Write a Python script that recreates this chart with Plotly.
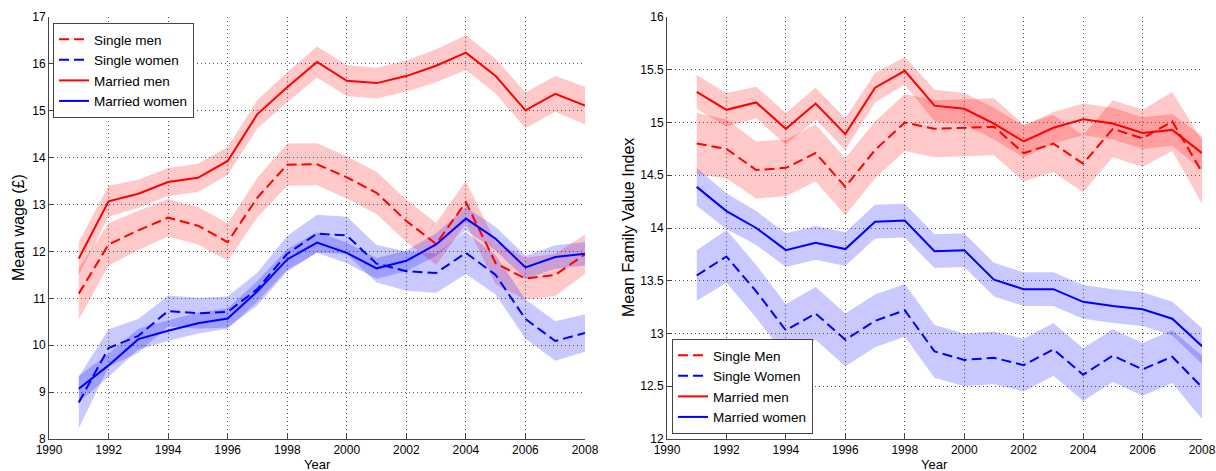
import plotly.graph_objects as go

years = list(range(1991, 2009))

# Left panel: mean wage (GBP)
wage_single_men = [11.1, 12.15, 12.45, 12.72, 12.55, 12.2, 13.15, 13.85, 13.86, 13.58, 13.25, 12.65, 12.16, 13.05, 11.75, 11.42, 11.5, 11.94]
wage_single_women = [8.78, 9.94, 10.2, 10.73, 10.68, 10.71, 11.2, 11.95, 12.38, 12.34, 11.74, 11.58, 11.54, 11.97, 11.5, 10.56, 10.09, 10.26]
wage_married_men = [11.85, 13.07, 13.23, 13.48, 13.57, 13.93, 14.93, 15.5, 16.04, 15.64, 15.59, 15.74, 15.96, 16.24, 15.74, 15.01, 15.36, 15.11]
wage_married_women = [9.07, 9.57, 10.13, 10.31, 10.47, 10.57, 11.15, 11.83, 12.19, 11.97, 11.64, 11.8, 12.15, 12.7, 12.27, 11.66, 11.88, 11.95]
wage_hw_single_men = [0.55, 0.45, 0.42, 0.4, 0.4, 0.4, 0.42, 0.45, 0.45, 0.45, 0.45, 0.45, 0.45, 0.45, 0.45, 0.45, 0.45, 0.42]
wage_hw_single_women = [0.55, 0.4, 0.36, 0.33, 0.33, 0.33, 0.35, 0.38, 0.4, 0.4, 0.4, 0.42, 0.42, 0.45, 0.42, 0.42, 0.42, 0.4]
wage_hw_married_men = [0.35, 0.33, 0.3, 0.3, 0.3, 0.3, 0.3, 0.32, 0.33, 0.33, 0.33, 0.33, 0.35, 0.37, 0.37, 0.38, 0.38, 0.4]
wage_hw_married_women = [0.28, 0.25, 0.22, 0.22, 0.22, 0.22, 0.22, 0.22, 0.22, 0.22, 0.22, 0.22, 0.24, 0.25, 0.25, 0.25, 0.25, 0.25]

# Right panel: mean family value index
fvi_single_men = [14.8, 14.75, 14.55, 14.57, 14.71, 14.39, 14.74, 15.0, 14.94, 14.95, 14.96, 14.71, 14.8, 14.61, 14.94, 14.85, 15.01, 14.53]
fvi_single_women = [13.55, 13.73, 13.4, 13.03, 13.19, 12.94, 13.12, 13.22, 12.83, 12.75, 12.77, 12.7, 12.85, 12.61, 12.79, 12.66, 12.78, 12.49]
fvi_married_men = [15.29, 15.12, 15.19, 14.94, 15.18, 14.89, 15.33, 15.49, 15.16, 15.13, 14.99, 14.82, 14.95, 15.03, 14.99, 14.9, 14.93, 14.71]
fvi_married_women = [14.39, 14.16, 14.0, 13.79, 13.86, 13.8, 14.06, 14.07, 13.78, 13.79, 13.51, 13.42, 13.42, 13.3, 13.26, 13.23, 13.14, 12.88]
fvi_hw_single_men = [0.29, 0.28, 0.27, 0.27, 0.27, 0.27, 0.27, 0.27, 0.27, 0.27, 0.27, 0.27, 0.27, 0.27, 0.27, 0.27, 0.28, 0.3]
fvi_hw_single_women = [0.24, 0.25, 0.25, 0.25, 0.25, 0.25, 0.25, 0.25, 0.25, 0.25, 0.25, 0.25, 0.25, 0.25, 0.25, 0.25, 0.25, 0.3]
fvi_hw_married_men = [0.16, 0.16, 0.15, 0.15, 0.15, 0.15, 0.14, 0.13, 0.15, 0.15, 0.15, 0.15, 0.15, 0.15, 0.15, 0.15, 0.15, 0.16]
fvi_hw_married_women = [0.18, 0.17, 0.16, 0.16, 0.16, 0.16, 0.16, 0.16, 0.16, 0.16, 0.16, 0.16, 0.16, 0.16, 0.16, 0.16, 0.16, 0.17]

RED = "#ff0000"
BLUE = "#0000ff"
RED_BAND = "rgba(255,0,0,0.21)"
BLUE_BAND = "rgba(0,0,255,0.21)"
DASH = "10px,5px"
FONT = "Liberation Sans, Arial, sans-serif"

W, H = 1216, 471


def px(x):
    # pixel x -> paper fraction
    return x / W


def py(y):
    # pixel y (from top) -> paper fraction
    return 1 - y / H


fig = go.Figure()


def band(mean, hw, color, xa, ya):
    upper = [m + h for m, h in zip(mean, hw)]
    lower = [m - h for m, h in zip(mean, hw)]
    return go.Scatter(x=years + years[::-1], y=upper + lower[::-1], fill="toself",
                      fillcolor=color, line=dict(width=0), mode="lines",
                      hoverinfo="skip", showlegend=False, xaxis=xa, yaxis=ya)


def line(mean, name, color, dash, xa, ya, legend):
    return go.Scatter(x=years, y=mean, mode="lines", name=name,
                      line=dict(color=color, width=2, dash=dash),
                      xaxis=xa, yaxis=ya, legend=legend)


# Left panel
left = [
    (wage_single_men, wage_hw_single_men, "Single men", RED, RED_BAND, DASH),
    (wage_single_women, wage_hw_single_women, "Single women", BLUE, BLUE_BAND, DASH),
    (wage_married_men, wage_hw_married_men, "Married men", RED, RED_BAND, "solid"),
    (wage_married_women, wage_hw_married_women, "Married women", BLUE, BLUE_BAND, "solid"),
]
for mean, hw, name, c, bc, d in left:
    fig.add_trace(band(mean, hw, bc, "x", "y"))
for mean, hw, name, c, bc, d in left:
    fig.add_trace(line(mean, name, c, d, "x", "y", "legend"))

# Right panel
right = [
    (fvi_single_men, fvi_hw_single_men, "Single Men", RED, RED_BAND, DASH),
    (fvi_single_women, fvi_hw_single_women, "Single Women", BLUE, BLUE_BAND, DASH),
    (fvi_married_men, fvi_hw_married_men, "Married men", RED, RED_BAND, "solid"),
    (fvi_married_women, fvi_hw_married_women, "Married women", BLUE, BLUE_BAND, "solid"),
]
for mean, hw, name, c, bc, d in right:
    fig.add_trace(band(mean, hw, bc, "x2", "y2"))
for mean, hw, name, c, bc, d in right:
    fig.add_trace(line(mean, name, c, d, "x2", "y2", "legend2"))

axis_style = dict(
    showgrid=True, gridcolor="#555555", griddash="1px,3px", gridwidth=1,
    showline=True, linecolor="#444444", linewidth=1, mirror=False,
    ticks="inside", ticklen=5, tickcolor="#444444",
    tickfont=dict(family=FONT, size=12, color="black"),
    zeroline=False, automargin=False,
)

y0, y1 = py(439), py(17)

fig.update_layout(
    width=W, height=H,
    margin=dict(l=0, r=0, t=0, b=0, autoexpand=False),
    paper_bgcolor="white", plot_bgcolor="white",
    font=dict(family=FONT, color="black"),
    xaxis=dict(domain=[px(49), px(585)], range=[1990, 2008], dtick=2, anchor="y", **axis_style),
    yaxis=dict(domain=[y0, y1], range=[8, 17], dtick=1, anchor="x", **axis_style),
    xaxis2=dict(domain=[px(667), px(1202)], range=[1990, 2008], dtick=2, anchor="y2", **axis_style),
    yaxis2=dict(domain=[y0, y1], range=[12, 16], dtick=0.5, anchor="x2", **axis_style),
    legend=dict(x=px(53), y=py(23), xanchor="left", yanchor="top",
                bgcolor="white", bordercolor="#444444", borderwidth=1,
                font=dict(family=FONT, size=13.5, color="black"), tracegroupgap=0),
    legend2=dict(x=px(672), y=py(434), xanchor="left", yanchor="bottom",
                 bgcolor="white", bordercolor="#444444", borderwidth=1,
                 font=dict(family=FONT, size=13.5, color="black"), tracegroupgap=0),
    showlegend=True,
)

annotations = [
    dict(text="Mean wage (£)", x=px(18), y=(y0 + y1) / 2, textangle=-90, font_size=16),
    dict(text="Mean Family Value Index", x=px(628), y=(y0 + y1) / 2, textangle=-90, font_size=16),
    dict(text="Year", x=px(317), y=py(464), font_size=13),
    dict(text="Year", x=px(934), y=py(464), font_size=13),
]
for a in annotations:
    fig.add_annotation(xref="paper", yref="paper", showarrow=False,
                       xanchor="center", yanchor="middle",
                       font=dict(family=FONT, color="black", size=a.pop("font_size")), **a)

# drop the default page margin so the figure sits at the window's top-left corner
fig.write_html("out.html", config={"displayModeBar": False},
               post_script="document.body.style.margin='0';document.body.style.overflow='hidden';")
